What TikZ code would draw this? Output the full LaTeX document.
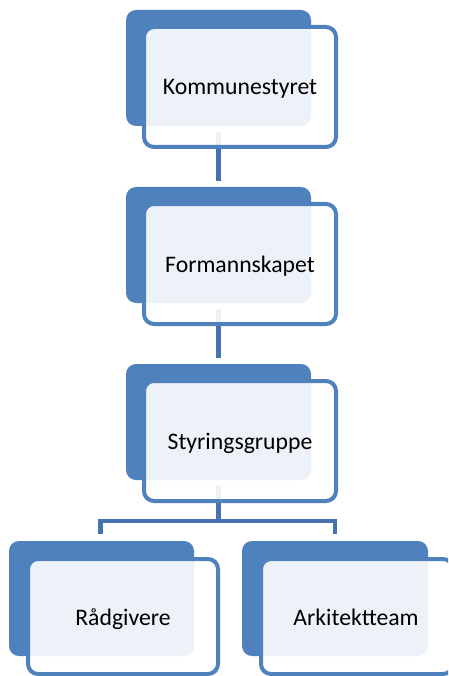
\documentclass[tikz,border=0pt]{standalone}
\usepackage{fontspec}
\setmainfont{Carlito}
\definecolor{dkblue}{HTML}{4F81BD}
\definecolor{lnblue}{HTML}{4672AD}
\tikzset{
  backbox/.style={fill=dkblue, rounded corners=10pt},
  frontbox/.style={draw=dkblue, line width=4pt, fill=white, fill opacity=0.9, rounded corners=10pt},
  conn/.style={draw=lnblue, line width=4.5pt},
  lbl/.style={font=\fontsize{23.7}{28}\selectfont, anchor=base, inner sep=0pt, text=black}
}
\begin{document}
\begin{tikzpicture}[x=1pt,y=-1pt]
\useasboundingbox (0,0) rectangle (448,676);
\begin{scope}
\clip (0,0) rectangle (448,676);
% anchor coordinates
\coordinate (b1) at (218.5,132);
\coordinate (t2) at (218.5,181);
\coordinate (b2) at (218.5,309);
\coordinate (t3) at (218.5,358);
\coordinate (b3) at (218.5,486);
\coordinate (tl) at (100.5,534);
\coordinate (tr) at (335,534);
% connectors
\draw[conn] (b1) -- (t2);
\draw[conn] (b2) -- (t3);
\draw[conn] (b3) -- ++(0,35) -| (tl);
\draw[conn] (b3) -- ++(0,35) -| (tr);
% box 1
\fill[backbox] (126,10) rectangle (311,126);
\draw[frontbox] (144,27) rectangle (336,147);
\node[lbl] (k) at (240,95) {Kommunestyret};
% box 2
\fill[backbox] (126,187) rectangle (311,303);
\draw[frontbox] (144,204) rectangle (336,324);
\node[lbl] (f) at (240,272) {Formannskapet};
% box 3
\fill[backbox] (126,364) rectangle (311,480);
\draw[frontbox] (144,381) rectangle (336,501);
\node[lbl] (s) at (240,449) {Styringsgruppe};
% bottom left
\fill[backbox] (9,541) rectangle (194,656);
\draw[frontbox] (28,559) rectangle (218,674);
\node[lbl] (r) at (123,625) {Rådgivere};
% bottom right
\fill[backbox] (242,541) rectangle (428,656);
\draw[frontbox] (261,559) rectangle (453,674);
\node[lbl] (a) at (356,625) {Arkitektteam};
\end{scope}
\end{tikzpicture}
\end{document}
